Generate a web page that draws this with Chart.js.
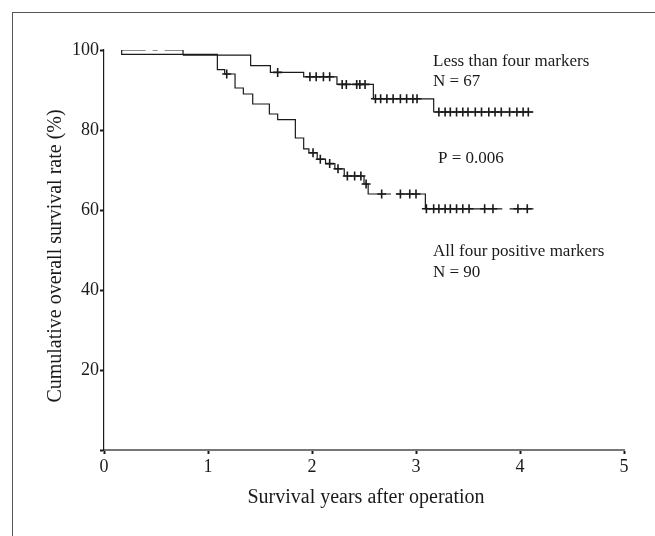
<!DOCTYPE html>
<html><head><meta charset="utf-8">
<script src="https://cdn.jsdelivr.net/npm/chart.js@4/dist/chart.umd.min.js"></script>
<style>
html,body{margin:0;padding:0;background:#fff;}
#wrap{position:absolute;left:0;top:0;width:655px;height:536px;overflow:hidden;}
#frame{position:absolute;left:12px;top:12px;width:660px;height:540px;border-top:1.5px solid #555;border-left:1.5px solid #555;}
canvas{position:absolute;left:0;top:0;}
</style></head><body>
<div id="wrap"><div id="frame"></div><canvas id="c" width="655" height="536"></canvas></div>
<script>
const xTicks = [0, 1, 2, 3, 4, 5];
const yTicks = [20, 40, 60, 80, 100];

// "Less than four markers" (N = 67): step times (years) and survival (%) after each step
const lessTimes = [0.17, 0.76, 1.41, 1.60, 1.92, 2.24, 2.59, 3.17, 4.13];
const lessSurv  = [100, 98.7, 96.1, 94.4, 93.3, 91.4, 87.8, 84.5, 84.5];
const lessCensorTimes = [1.67, 1.98, 2.04, 2.11, 2.17, 2.29, 2.33, 2.43, 2.46, 2.51, 2.61, 2.66, 2.72, 2.78, 2.85, 2.91, 2.97, 3.01,
  3.22, 3.28, 3.33, 3.39, 3.45, 3.50, 3.57, 3.63, 3.70, 3.76, 3.82, 3.90, 3.97, 4.03, 4.08];

// "All four positive markers" (N = 90)
const allTimes = [0.17, 0.17, 1.09, 1.16, 1.26, 1.34, 1.43, 1.59, 1.67, 1.84, 1.92, 1.97, 2.05, 2.13, 2.22, 2.31, 2.50, 2.54, 3.09, 4.13];
const allSurv  = [100, 98.9, 95.1, 94.0, 90.5, 89.0, 86.5, 84.0, 82.6, 78.0, 75.3, 74.3, 72.7, 71.6, 70.3, 68.5, 66.5, 64.0, 60.3, 60.3];
const allCensorTimes = [1.18, 2.01, 2.08, 2.17, 2.25, 2.34, 2.41, 2.47, 2.52, 2.67, 2.85, 2.94, 3.00,
  3.10, 3.17, 3.22, 3.28, 3.33, 3.39, 3.45, 3.51, 3.66, 3.74, 3.98, 4.07];
const allGaps = [[2.76, 2.81], [3.83, 3.90]];

const labels = {
  less: ["Less than four markers", "N = 67"],
  all: ["All four positive markers", "N = 90"],
  p: "P = 0.006",
  xTitle: "Survival years after operation",
  yTitle: "Cumulative overall survival rate (%)"
};

function survAt(times, surv, t) {
  let s = surv[0];
  for (let i = 0; i < times.length; i++) { if (times[i] <= t) s = surv[i]; }
  return s;
}
function buildLine(times, surv, gaps) {
  const pts = [];
  for (let i = 0; i < times.length; i++) {
    for (const g of gaps || []) {
      if (i > 0 && g[0] > times[i - 1] && g[1] < times[i]) {
        const s = surv[i - 1];
        pts.push({x: g[0], y: s}, {x: (g[0] + g[1]) / 2, y: null}, {x: g[1], y: s});
      }
    }
    pts.push({x: times[i], y: surv[i]});
  }
  return pts;
}
const lessLine = buildLine(lessTimes, lessSurv, []);
const allLine = buildLine(allTimes, allSurv, allGaps);
const lessCens = lessCensorTimes.map(t => ({x: t, y: survAt(lessTimes, lessSurv, t)}));
const allCens = allCensorTimes.map(t => ({x: t, y: survAt(allTimes, allSurv, t)}));

const FONT = "'Liberation Serif', 'Times New Roman', serif";
const INK = '#1a1a1a';

const textPlugin = {
  id: 'texts',
  afterDraw(chart) {
    const c = chart.ctx;
    c.save();
    c.fillStyle = INK;
    c.textBaseline = 'middle';
    c.textAlign = 'left';
    c.font = '17px ' + FONT;
    c.fillText(labels.less[0], 433, 62);
    c.fillText(labels.less[1], 433, 82);
    c.fillText(labels.p, 438, 159);
    c.fillText(labels.all[0], 433, 252);
    c.fillText(labels.all[1], 433, 273);
    c.font = '20px ' + FONT;
    c.textAlign = 'center';
    c.fillText(labels.xTitle, 366, 498);
    c.translate(56, 256);
    c.rotate(-Math.PI / 2);
    c.fillText(labels.yTitle, 0, 0);
    c.restore();
  }
};

const lineCommon = {
  type: 'line', stepped: 'before', borderColor: INK, borderWidth: 1.2,
  pointRadius: 0, fill: false, spanGaps: false, tension: 0
};
const censCommon = {
  type: 'scatter', showLine: false, pointStyle: 'cross', pointRadius: 4.5,
  pointBorderWidth: 1.6, borderColor: INK, backgroundColor: INK
};

new Chart(document.getElementById('c'), {
  type: 'line',
  data: {
    datasets: [
      Object.assign({}, lineCommon, {label: labels.less[0], data: lessLine,
        segment: {borderDash: ctx => ctx.p0DataIndex === 0 ? [24, 7, 5, 7, 40] : undefined}}),
      Object.assign({}, lineCommon, {label: labels.all[0], data: allLine}),
      Object.assign({}, censCommon, {label: 'censored (less)', data: lessCens}),
      Object.assign({}, censCommon, {label: 'censored (all)', data: allCens})
    ]
  },
  options: {
    responsive: false,
    animation: false,
    devicePixelRatio: 1,
    layout: {padding: {left: 0, right: 31, top: 50, bottom: 0}},
    plugins: {legend: {display: false}, tooltip: {enabled: false}},
    scales: {
      x: {
        type: 'linear', min: 0, max: 5,
        afterBuildTicks: s => { s.ticks = xTicks.map(v => ({value: v})); },
        afterFit: s => { s.height = 86; },
        ticks: {color: INK, font: {family: FONT, size: 18}, padding: 2},
        grid: {drawOnChartArea: false, drawTicks: true, tickLength: 4, tickColor: INK, tickWidth: 2},
        border: {color: '#777', width: 2}
      },
      y: {
        type: 'linear', min: 0, max: 100,
        afterBuildTicks: s => { s.ticks = [0].concat(yTicks).map(v => ({value: v})); },
        afterFit: s => { s.width = 104; },
        ticks: {color: INK, font: {family: FONT, size: 18}, padding: 1, callback: v => v === 0 ? '' : String(v)},
        grid: {drawOnChartArea: false, drawTicks: true, tickLength: 4, tickColor: INK, tickWidth: 2},
        border: {color: INK, width: 1.2}
      }
    }
  },
  plugins: [textPlugin]
});
</script>
</body></html>
